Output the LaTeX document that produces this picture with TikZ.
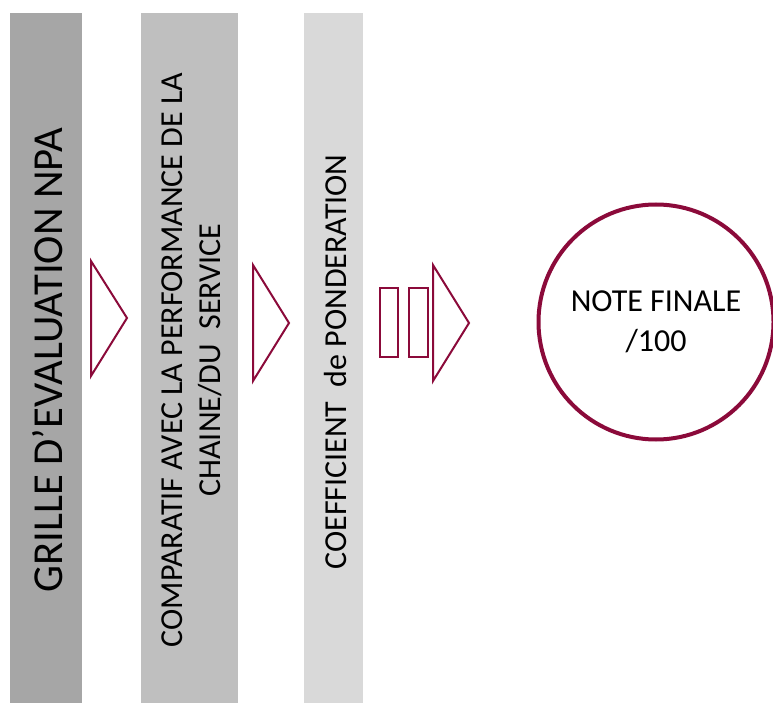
\documentclass[tikz,border=0pt]{standalone}
\usepackage{fontspec}
\setmainfont{Carlito}
\definecolor{maroon}{RGB}{139,10,58}
\definecolor{barA}{HTML}{A6A6A6}
\definecolor{barB}{HTML}{BFBFBF}
\definecolor{barC}{HTML}{D9D9D9}
\tikzset{
  bartxt/.style={rotate=90, align=center, inner sep=0pt, text=black},
  arrowtri/.style={draw=maroon, line width=2pt, line join=miter, fill=white},
  smallbox/.style={draw=maroon, line width=2pt, fill=white},
}
\begin{document}
\begin{tikzpicture}[x=1pt,y=-1pt]
\useasboundingbox (0,0) rectangle (773,703);
% bars
\fill[barA] (10,13) rectangle (82,703);
\fill[barB] (141,13) rectangle (238,703);
\fill[barC] (304,13) rectangle (363,703);
% bar texts
\node[bartxt, font=\fontsize{42.7}{50}\selectfont] (t1) at (48,360) {GRILLE D’EVALUATION NPA};
\node[bartxt, font=\fontsize{32}{38}\selectfont] (t2) at (192,360) {COMPARATIF AVEC LA PERFORMANCE DE LA\\CHAINE/DU\ \ SERVICE};
\node[bartxt, font=\fontsize{32}{38}\selectfont] (t3) at (335,362) {COEFFICIENT\ \ de PONDERATION};
% triangles
\draw[arrowtri] (91,261) -- (127,318) -- (91,376) -- cycle;
\draw[arrowtri] (253,265) -- (289,323) -- (253,381) -- cycle;
\draw[smallbox] (380,288) rectangle (398,357);
\draw[smallbox] (409,288) rectangle (428,357);
\draw[arrowtri] (433,265) -- (469,323) -- (433,381) -- cycle;
% circle
\node[circle, draw=maroon, line width=4pt, minimum size=235pt, inner sep=0pt, align=center, font=\fontsize{32}{40}\selectfont] (note) at (656,322) {NOTE FINALE\\/100};
\end{tikzpicture}
\end{document}
